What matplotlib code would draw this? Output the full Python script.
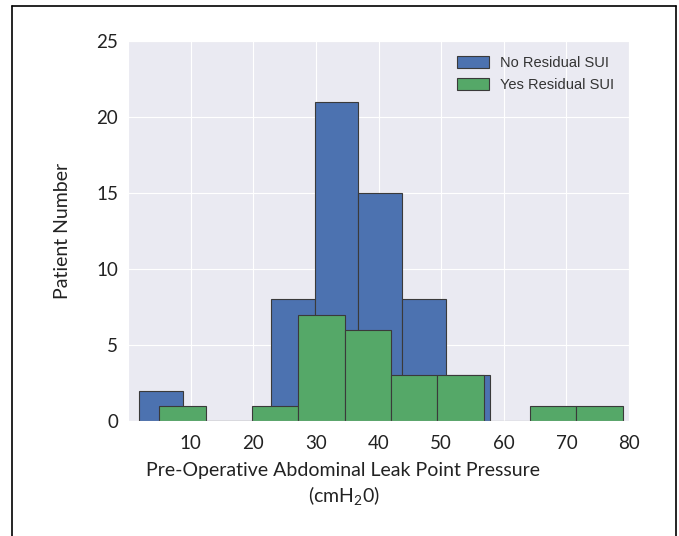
import numpy as np
import matplotlib
matplotlib.use('Agg')
import matplotlib.pyplot as plt
import seaborn as sns
from matplotlib.lines import Line2D

# Histogram counts
blue_edges = [1.8, 8.8, 15.8, 22.8, 29.8, 36.8, 43.8, 50.8, 57.8]
blue_counts = [2, 0, 0, 8, 21, 15, 8, 3]
green_edges = [5.0, 12.4, 19.8, 27.2, 34.6, 42.0, 49.4, 56.8, 64.2, 71.6, 79.0]
green_counts = [1, 0, 1, 7, 6, 3, 3, 0, 1, 1]

x_ticks = [10, 20, 30, 40, 50, 60, 70, 80]
y_ticks = [0, 5, 10, 15, 20, 25]

sns.set_style('darkgrid')
plt.rcParams['font.family'] = ['Lato', 'DejaVu Sans']
plt.rcParams['mathtext.default'] = 'regular'

fig = plt.figure(figsize=(6.79, 5.36), dpi=100)
ax = fig.add_axes([0.1885, 0.2146, 0.7379, 0.7089])

ax.hist(blue_edges[:-1], bins=blue_edges, weights=blue_counts,
        color='#4C72B0', edgecolor='#3a3a3a', linewidth=0.8,
        label='No Residual SUI')
ax.hist(green_edges[:-1], bins=green_edges, weights=green_counts,
        color='#55A868', edgecolor='#3a3a3a', linewidth=0.8,
        label='Yes Residual SUI')

ax.set_xlim(0, 80)
ax.set_ylim(0, 25)
ax.set_xticks(x_ticks)
ax.set_yticks(y_ticks)
ax.tick_params(axis='both', labelsize=13.5, length=0, colors='#222222')
ax.tick_params(axis='x', pad=10)
ax.tick_params(axis='y', pad=7)

ax.set_ylabel('Patient Number', fontsize=14, color='#222222', labelpad=18)
ax.set_xlabel('Pre-Operative Abdominal Leak Point Pressure\n(cmH$_2$0)',
              fontsize=14, color='#222222', linespacing=1.3)
ax.xaxis.set_label_coords(0.43, -0.108, transform=ax.transAxes)
ax.xaxis.label.set_va('top')

leg = ax.legend(loc='upper right', frameon=False,
                prop={'family': 'Liberation Sans', 'size': 10.5},
                handlelength=2.2, handleheight=0.9, labelspacing=0.55,
                borderaxespad=0.6)
for t in leg.get_texts():
    t.set_color('#333333')

# thin frame around the figure (bottom edge cut off in the reference)
fx0, fx1, fy1 = 12 / 679, 676 / 679, 1 - 6 / 536
for xs, ys in [([fx0, fx1], [fy1, fy1]), ([fx0, fx0], [0, fy1]), ([fx1, fx1], [0, fy1])]:
    fig.add_artist(Line2D(xs, ys, color='black', linewidth=1.2, transform=fig.transFigure))

fig.savefig('out.png', dpi=100)
